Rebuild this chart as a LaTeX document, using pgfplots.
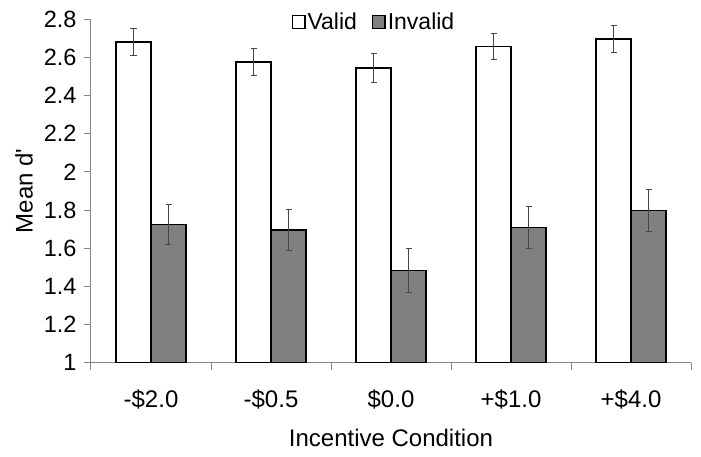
\documentclass[border=0pt]{standalone}
\usepackage{fontspec}
\setmainfont{Liberation Sans}
\newfontfamily\plainfont{Liberation Sans}
\usepackage{pgfplots}
\usepackage{pgfplotstable}
\pgfplotsset{compat=1.18}
\definecolor{axgray}{RGB}{134,134,134}
\definecolor{invgray}{RGB}{128,128,128}
\definecolor{errgray}{RGB}{70,70,70}
\pgfplotstableread{
x valid verr invalid ierr
1 2.681 0.070 1.726 0.105
2 2.576 0.070 1.696 0.105
3 2.545 0.077 1.482 0.116
4 2.658 0.067 1.710 0.109
5 2.697 0.070 1.797 0.110
}\datatable
\begin{document}
\begin{tikzpicture}
\begin{axis}[
  scale only axis, width=600pt, height=343.4pt,
  ymin=1, ymax=2.8, ytick={1,1.2,1.4,1.6,1.8,2,2.2,2.4,2.6,2.8},
  yticklabels={1,1.2,1.4,1.6,1.8,2,2.2,2.4,2.6,2.8},
  xmin=0.5, xmax=5.5,
  xtick={1,2,3,4,5},
  xticklabels={-\$2.0,-\$0.5,\$0.0,+\$1.0,+\$4.0},
  minor xtick={0.5,1.5,2.5,3.5,4.5,5.5},
  major x tick style={draw=none},
  axis lines*=left,
  axis line style={draw=axgray, line width=1pt, -},
  tick style={draw=axgray, line width=1pt},
  tick align=outside,
  major tick length=7pt, minor tick length=7pt,
  xticklabel style={font=\fontsize{24}{26}\selectfont, yshift=-16pt},
  yticklabel style={font=\fontsize{23.5}{26}\selectfont, xshift=-4pt},
  xlabel={Incentive Condition},
  ylabel={{\plainfont Mean d'}},
  label style={font=\fontsize{24}{26}\selectfont},
  xlabel style={at={(axis description cs:0.5,0)}, anchor=center, yshift=-75pt},
  ylabel style={at={(axis description cs:-0.1117,0.5)}, anchor=center},
  ybar=0pt, bar width=35pt,
  legend columns=2,
  legend style={draw=none, fill=none, at={(axis description cs:0.4717,0.993)}, anchor=center,
    font=\fontsize{23}{25}\selectfont, inner sep=0pt,
    /tikz/every even column/.append style={column sep=13pt}},
  legend image code/.code={\draw[#1, line width=1.3pt] (0pt,-6.5pt) rectangle (12.5pt,6.5pt);},
]
\addplot[fill=white, draw=black, line width=1.3pt,
  error bars/.cd, y dir=both, y explicit,
  error bar style={line width=0.9pt, draw=errgray},
  error mark options={rotate=90, mark size=3pt, line width=0.9pt, draw=errgray}]
  table[x=x, y=valid, y error=verr]{\datatable};
\addlegendentry{Valid}
\addplot[fill=invgray, draw=black, line width=1.3pt,
  error bars/.cd, y dir=both, y explicit,
  error bar style={line width=0.9pt, draw=errgray},
  error mark options={rotate=90, mark size=3pt, line width=0.9pt, draw=errgray}]
  table[x=x, y=invalid, y error=ierr]{\datatable};
\addlegendentry{Invalid}
\coordinate (SW) at (rel axis cs:0,0);
\coordinate (NE) at (rel axis cs:1,1);
\end{axis}
\pgfresetboundingbox
\path ([shift={(-91pt,-93.3pt)}]SW) rectangle ([shift={(10pt,19.3pt)}]NE);
\end{tikzpicture}
\end{document}
